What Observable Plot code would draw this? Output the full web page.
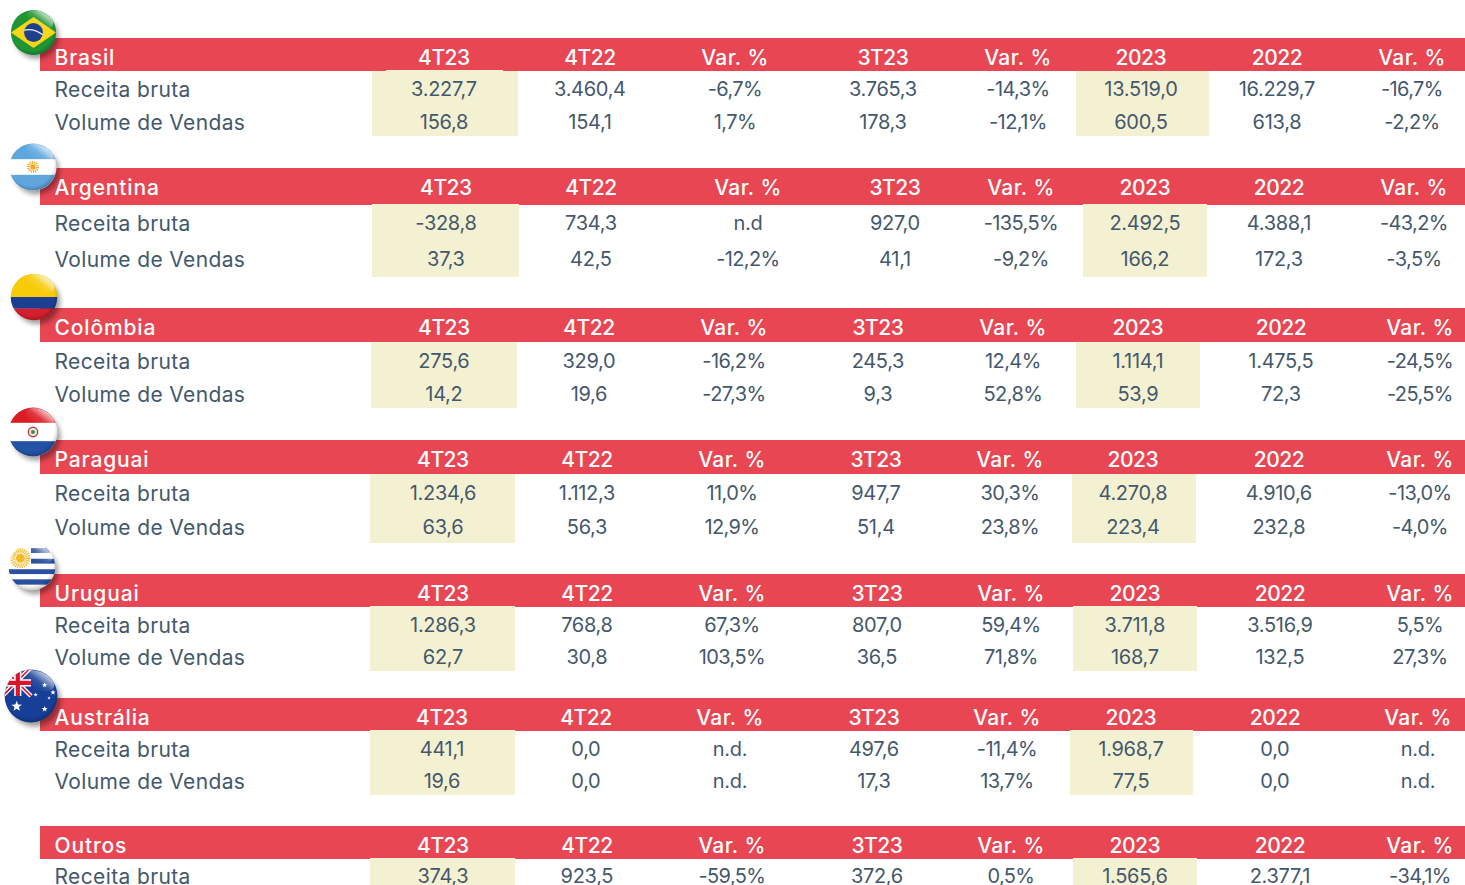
<!DOCTYPE html>
<html>
<head>
<meta charset="utf-8">
<script src="https://cdn.jsdelivr.net/npm/d3@7"></script>
<script src="https://cdn.jsdelivr.net/npm/@observablehq/plot@0.6"></script>
<style>
html,body{margin:0;padding:0;background:#fff;overflow:hidden}
svg{display:block}
</style>
</head>
<body>
<div id="chart"></div>
<script>
// ---- data ----
const columns = ["4T23","4T22","Var. %","3T23","Var. %","2023","2022","Var. %"];
const rowLabels = ["Receita bruta","Volume de Vendas"];
const countries = ["Brasil","Argentina","Colômbia","Paraguai","Uruguai","Austrália","Outros"];

const brasilReceita = ["3.227,7","3.460,4","-6,7%","3.765,3","-14,3%","13.519,0","16.229,7","-16,7%"];
const brasilVolume  = ["156,8","154,1","1,7%","178,3","-12,1%","600,5","613,8","-2,2%"];
const argentinaReceita = ["-328,8","734,3","n.d","927,0","-135,5%","2.492,5","4.388,1","-43,2%"];
const argentinaVolume  = ["37,3","42,5","-12,2%","41,1","-9,2%","166,2","172,3","-3,5%"];
const colombiaReceita = ["275,6","329,0","-16,2%","245,3","12,4%","1.114,1","1.475,5","-24,5%"];
const colombiaVolume  = ["14,2","19,6","-27,3%","9,3","52,8%","53,9","72,3","-25,5%"];
const paraguaiReceita = ["1.234,6","1.112,3","11,0%","947,7","30,3%","4.270,8","4.910,6","-13,0%"];
const paraguaiVolume  = ["63,6","56,3","12,9%","51,4","23,8%","223,4","232,8","-4,0%"];
const uruguaiReceita = ["1.286,3","768,8","67,3%","807,0","59,4%","3.711,8","3.516,9","5,5%"];
const uruguaiVolume  = ["62,7","30,8","103,5%","36,5","71,8%","168,7","132,5","27,3%"];
const australiaReceita = ["441,1","0,0","n.d.","497,6","-11,4%","1.968,7","0,0","n.d."];
const australiaVolume  = ["19,6","0,0","n.d.","17,3","13,7%","77,5","0,0","n.d."];
const outrosReceita = ["374,3","923,5","-59,5%","372,6","0,5%","1.565,6","2.377,1","-34,1%"];

const seriesByCountry = [
  [brasilReceita, brasilVolume],
  [argentinaReceita, argentinaVolume],
  [colombiaReceita, colombiaVolume],
  [paraguaiReceita, paraguaiVolume],
  [uruguaiReceita, uruguaiVolume],
  [australiaReceita, australiaVolume],
  [outrosReceita]
];

// ---- layout of the table (page pixels) ----
const sectionLayout = [
  {top:38,  bottom:71,  head:57,  rows:[89,122],  hlTop:71,  hlBottom:136, hl:[[372,518],[1076,1209]], cols:[444,590,735,883,1018,1141,1277,1412]},
  {top:168, bottom:205, head:187, rows:[223,259], hlTop:204, hlBottom:277, hl:[[372,519],[1083,1207]], cols:[446,591,748,895,1021,1145,1279,1414]},
  {top:308, bottom:342, head:327, rows:[361,394], hlTop:342, hlBottom:408, hl:[[371,517],[1076,1200]], cols:[444,589,734,878,1013,1138,1281,1420]},
  {top:440, bottom:474, head:459, rows:[493,527], hlTop:474, hlBottom:543, hl:[[370,515],[1072,1196]], cols:[443,587,732,876,1010,1133,1279,1420]},
  {top:574, bottom:607, head:593, rows:[625,657], hlTop:606, hlBottom:671, hl:[[370,515],[1073,1197]], cols:[443,587,732,877,1011,1135,1280,1420]},
  {top:698, bottom:731, head:717, rows:[749,781], hlTop:730, hlBottom:795, hl:[[370,515],[1070,1193]], cols:[442,586,730,874,1007,1131,1275,1418]},
  {top:826, bottom:859, head:845, rows:[876],     hlTop:858, hlBottom:890, hl:[[370,515],[1073,1197]], cols:[443,587,732,877,1011,1135,1280,1420]}
];
const notches = [{x1:386, x2:503, y1:70, y2:71}];
const barLeft = 40, barRight = 1465, labelX = 54;
const RED = "#E94653", CREAM = "#F4F1D3", INK = "#44586C";
const FONT = "Inter, 'Noto Sans', sans-serif";

// ---- flags: small vector badges used as images ----
function badge(inner) {
  const svg = `<svg xmlns="http://www.w3.org/2000/svg" viewBox="-32 -32 72 72" width="72" height="72">
<defs>
<clipPath id="c"><circle r="24"/></clipPath>
<filter id="b" x="-40%" y="-40%" width="180%" height="180%"><feGaussianBlur stdDeviation="2.6"/></filter>
<linearGradient id="g" x1="0.75" y1="0" x2="0.35" y2="1"><stop offset="0" stop-color="#fff" stop-opacity=".8"/><stop offset=".55" stop-color="#fff" stop-opacity=".12"/><stop offset="1" stop-color="#fff" stop-opacity="0"/></linearGradient>
<radialGradient id="e" cx=".46" cy=".42" r=".6"><stop offset=".8" stop-color="#000" stop-opacity="0"/><stop offset="1" stop-color="#000" stop-opacity=".26"/></radialGradient>
</defs>
<circle cx="3.5" cy="4.5" r="23.5" fill="#000" opacity=".38" filter="url(#b)"/>
<g clip-path="url(#c)">${inner}
<circle r="24" fill="url(#e)"/>
<ellipse cx="7" cy="-14" rx="15" ry="8" transform="rotate(25 7 -14)" fill="url(#g)"/></g></svg>`;
  return "data:image/svg+xml;charset=utf-8," + encodeURIComponent(svg);
}
const sun = (x,y,r,c) => `<circle cx="${x}" cy="${y}" r="${r*1.7}" fill="none" stroke="${c}" stroke-width="${r*1.1}" stroke-dasharray="1.1 .9"/><circle cx="${x}" cy="${y}" r="${r}" fill="${c}"/>`;
const star = (x,y,r) => {
  const p = d3.range(10).map(i => { const a = -Math.PI/2 + i*Math.PI/5, q = i%2 ? r*0.42 : r; return `${(x+q*Math.cos(a)).toFixed(2)},${(y+q*Math.sin(a)).toFixed(2)}`; });
  return `<polygon points="${p.join(" ")}" fill="#fff"/>`;
};
const flags = [
  {c:33, y:32, s:0.94, src:badge(`<rect x="-30" y="-30" width="60" height="60" fill="#1f9535"/><path d="M-24 0L0-16.5 24 0 0 16.5z" fill="#f6d616"/><circle r="10" fill="#1f3f8f"/><path d="M-10-2.5Q0-5 10 2.5" fill="none" stroke="#e8eef5" stroke-width="1.3"/>`)},
  {c:32.5, y:166.5, s:0.98, src:badge(`<rect x="-30" y="-30" width="60" height="60" fill="#fff"/><rect x="-30" y="-30" width="60" height="22" fill="#5ea6dd"/><rect x="-30" y="8" width="60" height="22" fill="#5ea6dd"/>${sun(0,0,2.7,"#f0a92e")}`)},
  {c:33.5, y:296.5, s:0.97, src:badge(`<rect x="-30" y="-30" width="60" height="30" fill="#f7cb08"/><rect x="-30" y="0" width="60" height="12" fill="#1c3f94"/><rect x="-30" y="12" width="60" height="18" fill="#d51f2e"/>`)},
  {c:32.5, y:431.5, s:1.02, src:badge(`<rect x="-30" y="-30" width="60" height="60" fill="#fff"/><rect x="-30" y="-30" width="60" height="21" fill="#dc1c24"/><rect x="-30" y="9" width="60" height="21" fill="#2452a4"/><circle r="4.6" fill="#e8efe6" stroke="#c23b3b" stroke-width="1.4"/><circle r="2" fill="#3f8f4a"/>`)},
  {c:31.5, y:566.5, s:0.97, src:badge(`<rect x="-30" y="-30" width="60" height="60" fill="#fff"/><g fill="#2b50a0"><rect x="-1" y="-19.5" width="31" height="5"/><rect x="-1" y="-8.5" width="31" height="5"/><rect x="-30" y="2.3" width="60" height="5"/><rect x="-30" y="12.7" width="60" height="5.5"/></g>${sun(-12,-9,4.6,"#f2b92a")}`)},
  {c:30.5, y:695.5, s:1.1, src:badge(`<rect x="-30" y="-30" width="60" height="60" fill="#173f98"/><path d="M-26-26L0 0M0-26L-26 0" stroke="#fff" stroke-width="4"/><path d="M-26-26L0 0M0-26L-26 0" stroke="#d9142b" stroke-width="1.6"/><path d="M-12-26V0M-26-12H0" stroke="#fff" stroke-width="6.5"/><path d="M-12-26V0M-26-12H0" stroke="#d9142b" stroke-width="3.8"/>${star(-13,9.4,5)}${star(12.4,-10,2.6)}${star(20,-3.3,2.6)}${star(16.4,1.8,1.6)}${star(12.4,11.8,2.8)}${star(4.2,-1.2,2)}`)}
];

// ---- tables for the marks ----
const headerBars = sectionLayout.map(s => ({y1:s.top, y2:s.bottom}));
const highlights = sectionLayout.flatMap(s => s.hl.map(([x1,x2]) => ({x1, x2, y1:s.hlTop, y2:s.hlBottom})));
const countryLabels = countries.map((name,i) => ({name, y:sectionLayout[i].head}));
const headerCells = sectionLayout.flatMap(s => columns.map((label,j) => ({label, x:s.cols[j], y:s.head, isVar: label === "Var. %"})));
const rowLabelCells = seriesByCountry.flatMap((rows,i) => rows.map((_,r) => ({label:rowLabels[r], y:sectionLayout[i].rows[r]})));
const valueCells = seriesByCountry.flatMap((rows,i) => rows.flatMap((vals,r) => vals.map((v,j) => ({v, x:sectionLayout[i].cols[j], y:sectionLayout[i].rows[r], pct:v.endsWith("%")}))));
const flagCells = flags.map(f => ({x:f.c+4*f.s, y:f.y+4*f.s, w:72*f.s, src:f.src}));

const base = {textAnchor:"middle", lineAnchor:"middle", fontFamily:FONT, dy:0.5, dx:-0.6};
const chart = Plot.plot({
  width:1465, height:885,
  margin:0,
  x:{domain:[0,1465], range:[0,1465], axis:null},
  y:{domain:[0,885], range:[0,885], axis:null},
  style:{background:"#fff", fontFamily:FONT},
  marks:[
    Plot.rect(headerBars, {x1:barLeft, x2:barRight, y1:"y1", y2:"y2", fill:RED}),
    Plot.rect(highlights, {x1:"x1", x2:"x2", y1:"y1", y2:"y2", fill:CREAM}),
    Plot.rect(notches, {x1:"x1", x2:"x2", y1:"y1", y2:"y2", fill:CREAM}),
    Plot.text(countryLabels, {...base, dx:0, x:labelX, y:"y", text:"name", textAnchor:"start", fill:"#fff", fontSize:21, fontWeight:500}),
    Plot.text(headerCells.filter(d => !d.isVar), {...base, x:"x", y:"y", text:"label", fill:"#fff", fontSize:21, fontWeight:500}),
    Plot.text(headerCells.filter(d => d.isVar), {...base, x:"x", y:"y", text:"label", fill:"#fff", fontSize:21, fontWeight:500}),
    Plot.text(rowLabelCells, {...base, dx:0, x:labelX, y:"y", text:"label", textAnchor:"start", fill:INK, fontSize:21}),
    Plot.text(valueCells.filter(d => !d.pct), {...base, x:"x", y:"y", text:"v", fill:INK, fontSize:20}),
    Plot.text(valueCells.filter(d => d.pct), {...base, x:"x", y:"y", text:"v", fill:INK, fontSize:20}),
    Plot.image(flagCells, {x:"x", y:"y", width:"w", height:"w", src:"src"})
  ]
});
// letter spacing for each text mark, in drawing order
const textSpacing = ["0.85px","-0.5px","0.4px","0.37px","-0.3px","-0.6px"];
chart.querySelectorAll('g[aria-label="text"]').forEach((g,i) => { g.style.letterSpacing = textSpacing[i]; });
document.getElementById("chart").append(chart);
</script>
</body>
</html>
